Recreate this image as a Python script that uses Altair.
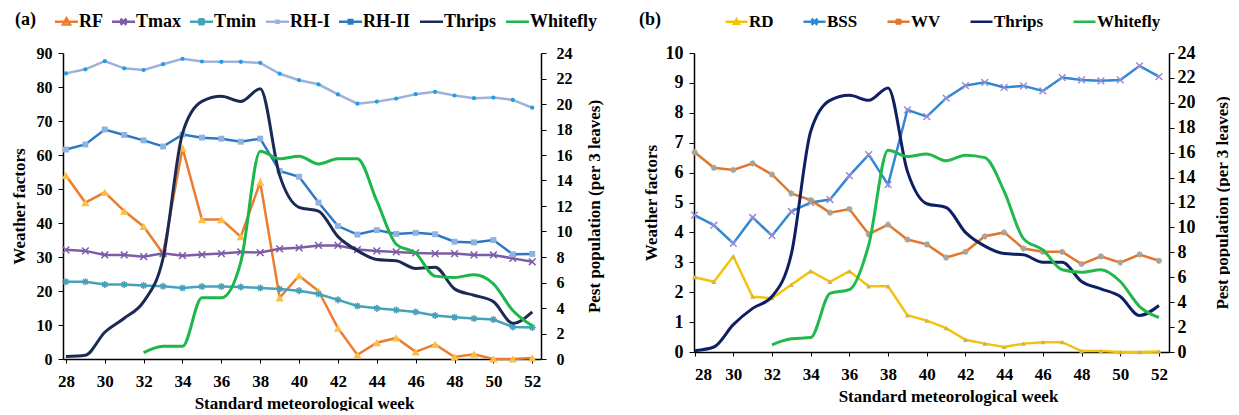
import altair as alt
import pandas as pd

# ---------------- data ----------------
weeks = list(range(28, 53))
whitefly_weeks = list(range(32, 53))

# panel (a) weather factors
rf = [54, 46, 49, 43.5, 39, 31, 62, 41, 41, 36, 52, 18, 24.5, 20, 9.1, 1.2, 4.8, 6.2, 2.1, 4.3, 0.6, 1.4, 0, 0, 0.3]
tmax = [32.1, 31.8, 30.6, 30.6, 30.1, 31.1, 30.4, 30.7, 31.0, 31.5, 31.3, 32.4, 32.7, 33.4, 33.4, 32.2, 31.8, 31.5, 31.2, 31.0, 31.0, 30.6, 30.6, 29.6, 28.6]
tmin = [22.7, 22.7, 21.9, 21.9, 21.6, 21.4, 20.9, 21.3, 21.3, 21.2, 20.9, 20.6, 20.1, 19.1, 17.4, 15.6, 14.9, 14.4, 13.8, 12.8, 12.3, 11.9, 11.6, 9.4, 9.3]
rh1 = [84.0, 85.2, 87.6, 85.5, 85.0, 86.7, 88.3, 87.5, 87.4, 87.4, 87.1, 83.9, 82.0, 80.8, 77.8, 75.1, 75.7, 76.6, 77.9, 78.6, 77.5, 76.7, 76.9, 76.2, 73.9]
rh2 = [61.6, 63.1, 67.5, 65.9, 64.3, 62.5, 66.0, 65.1, 64.8, 63.9, 64.8, 55.3, 53.6, 46.0, 39.1, 36.6, 37.9, 36.8, 37.1, 36.7, 34.5, 34.3, 35.0, 30.8, 30.9]
thrips_a = [0.2, 0.3, 2.1, 3.2, 4.5, 7.9, 17.7, 20.2, 20.6, 20.2, 21.2, 14.4, 11.9, 11.6, 9.6, 8.5, 7.8, 7.7, 7.1, 7.2, 5.5, 5.0, 4.5, 2.8, 3.7]
whitefly_a = [0.5, 1.0, 1.0, 4.8, 4.8, 7.6, 16.3, 15.7, 15.9, 15.3, 15.7, 15.7, 12.4, 9.0, 8.3, 6.5, 6.4, 6.6, 5.9, 3.8, 2.6]

# panel (b) weather factors
rd = [2.5, 2.35, 3.2, 1.85, 1.8, 2.25, 2.7, 2.35, 2.7, 2.2, 2.2, 1.23, 1.05, 0.8, 0.41, 0.28, 0.17, 0.28, 0.33, 0.33, 0.03, 0.03, 0.0, 0.0, 0.02]
bss = [4.58, 4.24, 3.63, 4.5, 3.89, 4.7, 5.0, 5.1, 5.9, 6.6, 5.6, 8.1, 7.87, 8.49, 8.91, 9.02, 8.85, 8.9, 8.73, 9.18, 9.1, 9.07, 9.1, 9.57, 9.21]
wv = [6.68, 6.16, 6.09, 6.31, 5.94, 5.3, 5.08, 4.66, 4.78, 3.94, 4.26, 3.76, 3.6, 3.16, 3.35, 3.87, 4.0, 3.46, 3.35, 3.35, 2.94, 3.2, 2.99, 3.26, 3.05]
thrips_b = [0.1, 0.4, 2.2, 3.5, 4.45, 7.85, 17.7, 20.2, 20.6, 20.2, 21.2, 14.5, 11.9, 11.6, 9.6, 8.5, 7.9, 7.8, 7.2, 7.2, 5.66, 5.07, 4.45, 2.93, 3.73]
whitefly_b = [0.58, 1.06, 1.16, 4.7, 5.0, 8.6, 16.2, 15.7, 15.9, 15.35, 15.8, 15.6, 12.9, 9.1, 8.2, 6.6, 6.4, 6.6, 5.66, 3.65, 2.77]

left_ticks_a = list(range(0, 91, 10))
left_ticks_b = list(range(0, 11, 1))
right_ticks = list(range(0, 25, 2))
x_ticks = list(range(28, 53, 2))

FONT = "Liberation Serif"

# marker paths
ASTERISK = "M-1,0L1,0M0,-1L0,1M-0.7,-0.7L0.7,0.7M-0.7,0.7L0.7,-0.7"
XMARK = "M-1,-1L1,1M-1,1L1,-1"


def frame(name, xs, ys):
    return pd.DataFrame({"week": xs, "value": ys, "series": name})


def x_enc(domain, title_x):
    return alt.X(
        "week:Q",
        scale=alt.Scale(domain=domain, nice=False, zero=False),
        axis=alt.Axis(
            values=x_ticks, title="Standard meteorological week", grid=False,
            labelFont=FONT, labelFontWeight="bold", labelFontSize=17, labelColor="black",
            titleFont=FONT, titleFontWeight="bold", titleFontSize=17, titleColor="black",
            domainColor="black", domainWidth=1.5, tickColor="black", tickSize=4,
            labelPadding=10, titlePadding=6, titleX=title_x,
        ),
    )


def y_left(domain, ticks, lab_size, lab_pad, title_pad):
    return alt.Y(
        "value:Q",
        scale=alt.Scale(domain=domain, nice=False),
        axis=alt.Axis(
            values=ticks, title="Weather factors", grid=False, orient="left",
            labelFont=FONT, labelFontWeight="bold", labelFontSize=lab_size, labelColor="black",
            titleFont=FONT, titleFontWeight="bold", titleFontSize=17, titleColor="black",
            domainColor="black", domainWidth=1.5, tickColor="black", tickSize=5,
            labelPadding=lab_pad, titlePadding=title_pad,
        ),
    )


def y_right(lab_size, lab_pad, title_pad):
    return alt.Y(
        "value:Q",
        scale=alt.Scale(domain=[0, 24], nice=False),
        axis=alt.Axis(
            values=right_ticks, title="Pest population (per 3 leaves)", grid=False, orient="right",
            labelFont=FONT, labelFontWeight="bold", labelFontSize=lab_size, labelColor="black",
            titleFont=FONT, titleFontWeight="bold", titleFontSize=17, titleColor="black",
            domainColor="black", domainWidth=1.5, tickColor="black", tickSize=5,
            labelPadding=lab_pad, titlePadding=title_pad, titleAngle=270, titleBaseline="top",
        ),
    )


def weather_layers(df, spec, X, Y):
    name, line_color, shape, marker_color, filled, msize = spec
    base = alt.Chart(df).transform_filter(alt.datum.series == name)
    line = base.mark_line(color=line_color, strokeWidth=2.5).encode(x=X, y=Y)
    if filled:
        pts = base.mark_point(shape=shape, filled=True, color=marker_color, size=msize, opacity=1).encode(x=X, y=Y)
    else:
        pts = base.mark_point(shape=shape, filled=False, color=marker_color, size=msize,
                              strokeWidth=1.5, opacity=1).encode(x=X, y=Y)
    return [line, pts]


def pest_layers(df, X, Y, thrips_color, white_color):
    t = alt.Chart(df).transform_filter(alt.datum.series == "Thrips").mark_line(
        color=thrips_color, strokeWidth=3, interpolate="monotone").encode(x=X, y=Y)
    w = alt.Chart(df).transform_filter(alt.datum.series == "Whitefly").mark_line(
        color=white_color, strokeWidth=3, interpolate="monotone").encode(x=X, y=Y)
    return [t, w]


def legend_layer(names, colors, paths, X, Y, ydummy, legend):
    ldf = pd.DataFrame({"series": names, "week": 40, "value": ydummy})
    return alt.Chart(ldf).mark_point(filled=False, opacity=0, strokeWidth=2.5).encode(
        x=X, y=Y,
        color=alt.Color("series:N", scale=alt.Scale(domain=names, range=colors), legend=legend),
        shape=alt.Shape("series:N", scale=alt.Scale(domain=names, range=paths), legend=legend),
    )


def make_legend(title, lx, ly, col_pad, title_pad, label_off, label_size):
    return alt.Legend(
        title=title, orient="none", legendX=lx, legendY=ly, direction="horizontal",
        titleOrient="left", titleFont=FONT, titleFontWeight="bold", titleFontSize=18,
        titleColor="black", titlePadding=title_pad,
        labelFont=FONT, labelFontWeight="bold", labelFontSize=label_size, labelColor="black",
        labelOffset=label_off, columnPadding=col_pad, symbolSize=400, symbolStrokeWidth=2.5,
        symbolOpacity=1, symbolFillColor="transparent",
    )


# ---------------- panel (a) ----------------
Xa = x_enc([27.85, 52.45], 241)
Ya = y_left([0, 90], left_ticks_a, 16, 6, 8)
Yra = y_right(16, 10, 14)

df_a = pd.concat([
    frame("RF", weeks, rf), frame("Tmax", weeks, tmax), frame("Tmin", weeks, tmin),
    frame("RH-I", weeks, rh1), frame("RH-II", weeks, rh2),
])
pest_a = pd.concat([frame("Thrips", weeks, thrips_a), frame("Whitefly", whitefly_weeks, whitefly_a)])

specs_a = [
    ("RF", "#EC7C30", "triangle-up", "#FBBF45", True, 70),
    ("Tmax", "#7E5BA6", XMARK, "#7E5BA6", False, 45),
    ("Tmin", "#45A2B8", ASTERISK, "#45A2B8", False, 50),
    ("RH-I", "#9DB1DC", "circle", "#1E9FE3", True, 18),
    ("RH-II", "#2E78C2", "square", "#8DB3E2", True, 35),
]
names_a = ["RF", "Tmax", "Tmin", "RH-I", "RH-II", "Thrips", "Whitefly"]
colors_a = ["#EC7C30", "#7E5BA6", "#45A2B8", "#9DB1DC", "#2E78C2", "#1B2A55", "#1CB64A"]
paths_a = [
    "M-1.15,0H1.15M0,-0.35L0.35,0.27L-0.35,0.27Z",
    "M-1.15,0H1.15M-0.3,-0.3L0.3,0.3M-0.3,0.3L0.3,-0.3",
    "M-1.15,0H1.15M-0.3,-0.3L0.3,0.3M-0.3,0.3L0.3,-0.3M0,-0.38V0.38",
    "M-1.15,0H1.15M-0.1,-0.1H0.1V0.1H-0.1Z",
    "M-1.15,0H1.15M-0.18,-0.18H0.18V0.18H-0.18Z",
    "M-1.15,0H1.15",
    "M-1.15,0H1.15",
]
leg_a = make_legend("(a)", -48, -43, 4, 19, 1, 18)

left_a_layers = []
for s in specs_a:
    left_a_layers += weather_layers(df_a, s, Xa, Ya)
left_a_layers.append(legend_layer(names_a, colors_a, paths_a, Xa, Ya, 45, leg_a))
left_a = alt.layer(*left_a_layers)
right_a = alt.layer(*pest_layers(pest_a, Xa, Yra, "#1B2A55", "#1CB64A"))
panel_a = alt.layer(left_a, right_a).resolve_scale(y="independent").properties(width=478, height=306)

# ---------------- panel (b) ----------------
Xb = x_enc([27.97, 52.52], 254)
Yb = y_left([0, 10], left_ticks_b, 18, 6, 5)
Yrb = y_right(18, 3, 19)

df_b = pd.concat([frame("RD", weeks, rd), frame("BSS", weeks, bss), frame("WV", weeks, wv)])
pest_b = pd.concat([frame("Thrips", weeks, thrips_b), frame("Whitefly", whitefly_weeks, whitefly_b)])

specs_b = [
    ("RD", "#F4C20D", "triangle-up", "#C9B25A", True, 25),
    ("BSS", "#3187D1", XMARK, "#9A8BD6", False, 45),
    ("WV", "#E3762B", ASTERISK, "#A8A39A", False, 40),
]
names_b = ["RD", "BSS", "WV", "Thrips", "Whitefly"]
colors_b = ["#F4C20D", "#3187D1", "#E3762B", "#0F1F66", "#22B84B"]
paths_b = [
    "M-1.1,0H1.1M0,-0.25L0.25,0.2L-0.25,0.2Z",
    "M-1.1,0H1.1M-0.3,-0.3L0.3,0.3M-0.3,0.3L0.3,-0.3",
    "M-1.1,0H1.1M-0.25,-0.25L0.25,0.25M-0.25,0.25L0.25,-0.25M0,-0.3V0.3",
    "M-1.1,0H1.1",
    "M-1.1,0H1.1",
]
leg_b = make_legend("(b)", -55, -43, 24, 64, 1, 17)

left_b_layers = []
for s in specs_b:
    left_b_layers += weather_layers(df_b, s, Xb, Yb)
left_b_layers.append(legend_layer(names_b, colors_b, paths_b, Xb, Yb, 5, leg_b))
left_b = alt.layer(*left_b_layers)
right_b = alt.layer(*pest_layers(pest_b, Xb, Yrb, "#0F1F66", "#22B84B"))
panel_b = alt.layer(left_b, right_b).resolve_scale(y="independent").properties(width=475, height=299)

chart = (
    alt.hconcat(panel_a, panel_b, spacing=153, bounds="flush")
    .resolve_scale(color="independent", shape="independent")
    .resolve_legend(color="independent", shape="independent")
    .properties(padding={"left": 2, "top": 2, "right": 0, "bottom": 0}, background="white")
    .configure_view(stroke=None)
)

chart.save("out.html", embed_options={"renderer": "svg", "actions": False})
